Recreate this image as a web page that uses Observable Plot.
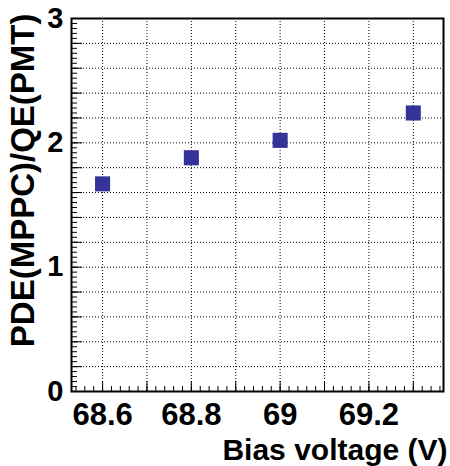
<!DOCTYPE html>
<html>
<head>
<meta charset="utf-8">
<script src="https://cdn.jsdelivr.net/npm/d3@7"></script>
<script src="https://cdn.jsdelivr.net/npm/@observablehq/plot@0.6"></script>
<style>
  html, body { margin: 0; padding: 0; background: #fff; }
  #chart svg { display: block; }
</style>
</head>
<body>
<div id="chart"></div>
<script>
// Data
const biasVoltage = [68.6, 68.8, 69.0, 69.3];
const pdeRatio = [1.67, 1.88, 2.02, 2.24];

// Axis tick labels
const xTickLabels = [68.6, 68.8, 69.0, 69.2];
const yTickLabels = [0, 1, 2, 3];
const xGridTicks = [68.6, 68.7, 68.8, 68.9, 69.0, 69.1, 69.2, 69.3];
const yGridTicks = [0.2, 0.4, 0.6, 0.8, 1.0, 1.2, 1.4, 1.6, 1.8, 2.0, 2.2, 2.4, 2.6, 2.8];
const xMinorTicks = d3.range(68.54, 69.37, 0.02).map(v => +v.toFixed(2));
const yMinorTicks = d3.range(0, 3.001, 0.04).map(v => +v.toFixed(2));

const xTitle = "Bias voltage (V)";
const yTitle = "PDE(MPPC)/QE(PMT)";

const data = biasVoltage.map((x, i) => ({x, y: pdeRatio[i]}));
const font = "'Liberation Sans', Arial, Helvetica, sans-serif";

const chart = Plot.plot({
  width: 450,
  height: 466,
  marginLeft: 71,
  marginRight: 7,
  marginTop: 18,
  marginBottom: 75,
  style: {fontFamily: font, background: "#fff", color: "black"},
  x: {domain: [68.53, 69.368]},
  y: {domain: [0, 3]},
  marks: [
    Plot.gridX(xGridTicks, {stroke: "black", strokeOpacity: 1, strokeWidth: 1, strokeDasharray: "1,2"}),
    Plot.gridY(yGridTicks, {stroke: "black", strokeOpacity: 1, strokeWidth: 1, strokeDasharray: "1,2"}),
    // inward minor and major ticks (no labels)
    Plot.axisX(xMinorTicks, {tickSize: -5, fill: "none", strokeWidth: 1, label: null}),
    Plot.axisX(xGridTicks, {tickSize: -10, fill: "none", strokeWidth: 1, label: null}),
    Plot.axisY(yMinorTicks, {tickSize: -6, fill: "none", strokeWidth: 1, label: null}),
    Plot.axisY(yGridTicks, {tickSize: -11, fill: "none", strokeWidth: 1, label: null}),
    // tick labels
    Plot.axisX(xTickLabels, {tickSize: 0, tickPadding: 11, fontSize: 31, fontWeight: "bold",
      tickFormat: d => d3.format("~g")(d), label: null}),
    Plot.axisY(yTickLabels, {tickSize: 0, tickPadding: 8, fontSize: 29, fontWeight: "bold",
      tickFormat: d => String(d), label: null}),
    Plot.frame({stroke: "black", strokeWidth: 2}),
    Plot.dot(data, {x: "x", y: "y", symbol: "square", r: 8.5, fill: "#333399", stroke: null}),
    Plot.text([xTitle], {frameAnchor: "bottom-right", textAnchor: "end", lineAnchor: "bottom",
      dx: 4, dy: 68, fontSize: 30, fontWeight: "bold", fill: "black"}),
    Plot.text([yTitle], {frameAnchor: "top-left", textAnchor: "end", lineAnchor: "bottom",
      rotate: -90, dx: -38, dy: -5, fontSize: 33, fontWeight: "bold", fill: "black"})
  ]
});
document.getElementById("chart").appendChild(chart);
</script>
</body>
</html>
